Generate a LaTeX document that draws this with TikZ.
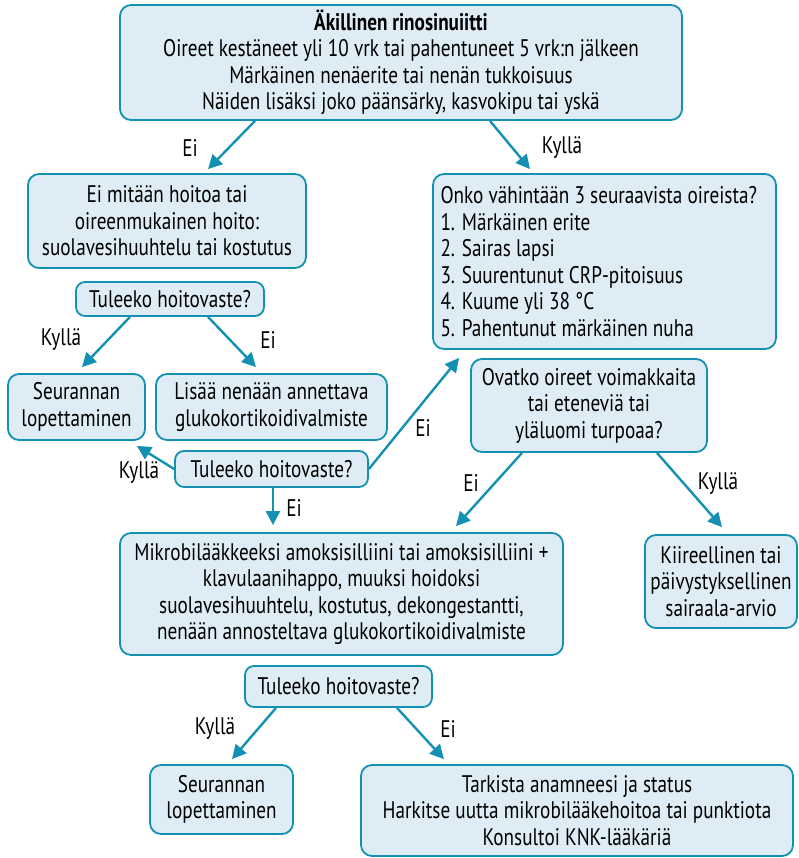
\documentclass[tikz,border=0pt]{standalone}
\usepackage{fontspec}
\setmainfont{PT Sans}[FakeStretch=0.8]
\usepackage{tikz}
\usetikzlibrary{arrows.meta, calc}
\definecolor{tealline}{RGB}{20,145,178}
\definecolor{boxfill}{RGB}{222,237,245}

\begin{document}
\begin{tikzpicture}[x=1pt, y=-1pt,
  % Node Styles
  bnode/.style={rectangle, rounded corners=11pt, draw=tealline, line width=1.8pt, fill=boxfill, text=black, align=center, font=\fontsize{24}{26.5}\selectfont, inner sep=0pt},
  qnode/.style={bnode, rounded corners=9pt},
  % Arrow Styles
  arr/.style={-{Triangle[length=14pt,width=14pt]}, line width=2.4pt, tealline},
  % Labels
  lbl/.style={font=\fontsize{24}{26.5}\selectfont, inner sep=0pt}
]
\useasboundingbox (0,0) rectangle (799,858);

\node[bnode, minimum width=562, minimum height=115] (start) at (401,62.5) {\textbf{Äkillinen rinosinuiitti}\\Oireet kestäneet yli 10 vrk tai pahentuneet 5 vrk:n jälkeen\\Märkäinen nenäerite tai nenän tukkoisuus\\Näiden lisäksi joko päänsärky, kasvokipu tai yskä};
\node[bnode, minimum width=278, minimum height=94] (nohoito) at (167,221) {Ei mitään hoitoa tai\\oireenmukainen hoito:\\suolavesihuuhtelu tai kostutus};
\node[qnode, minimum width=188, minimum height=34] (vaste1) at (170,299) {Tuleeko hoitovaste?};
\node[bnode, minimum width=137, minimum height=66] (seur1) at (76.5,407) {Seurannan\\lopettaminen};
\node[bnode, minimum width=231, minimum height=66] (lisaa) at (271.5,407) {Lisää nenään annettava\\glukokortikoidivalmiste};
\node[qnode, minimum width=193, minimum height=36] (vaste2) at (271.5,469) {Tuleeko hoitovaste?};
\node[bnode, minimum width=343, minimum height=175, text width=328, align=flush left] (oireet3) at (604.5,261.5) {Onko vähintään 3 seuraavista oireista?\\1. Märkäinen erite\\2. Sairas lapsi\\3. Suurentunut CRP-pitoisuus\\4. Kuume yli 38 °C\\5. Pahentunut märkäinen nuha};
\node[bnode, minimum width=236, minimum height=93] (voimak) at (589,405.5) {Ovatko oireet voimakkaita\\tai eteneviä tai\\yläluomi turpoaa?};
\node[bnode, minimum width=443, minimum height=122] (mikrobi) at (341.5,594) {Mikrobilääkkeeksi amoksisilliini tai amoksisilliini +\\klavulaanihappo, muuksi hoidoksi\\suolavesihuuhtelu, kostutus, dekongestantti,\\nenään annosteltava glukokortikoidivalmiste};
\node[bnode, minimum width=152, minimum height=93] (kiire) at (721,581.5) {Kiireellinen tai\\päivystyksellinen\\sairaala-arvio};
\node[qnode, minimum width=187, minimum height=41] (vaste3) at (338.5,686.5) {Tuleeko hoitovaste?};
\node[bnode, minimum width=143, minimum height=69] (seur2) at (221.5,799.5) {Seurannan\\lopettaminen};
\node[bnode, minimum width=432, minimum height=91] (tarkista) at (577,810.5) {Tarkista anamneesi ja status\\Harkitse uutta mikrobilääkehoitoa tai punktiota\\Konsultoi KNK-lääkäriä};

% Arrows
\draw[arr] ([xshift=-146pt]start.south) -- ([xshift=41pt, yshift=4pt]nohoito.north);
\node[lbl] at (190,148) {Ei};
\draw[arr] ([xshift=89pt]start.south) -- ([xshift=-74.5pt, yshift=4pt]oireet3.north);
\node[lbl] at (562,148) {Kyllä};
\draw[arr] ([xshift=-40pt]vaste1.south) -- ([xshift=5.5pt, yshift=6pt]seur1.north);
\node[lbl] at (61,340) {Kyllä};
\draw[arr] ([xshift=38pt]vaste1.south) -- ([xshift=-15.5pt, yshift=6pt]lisaa.north);
\node[lbl] at (268,340) {Ei};
\draw[arr] (vaste2.west) -- ([xshift=-9pt, yshift=-5pt]seur1.south east);
\node[lbl] at (139,473) {Kyllä};
\draw[arr] (vaste2.east) -- ([xshift=27pt, yshift=-8pt]oireet3.south west);
\node[lbl] at (423,428) {Ei};
\draw[arr] ([xshift=1.5pt]vaste2.south) -- ([xshift=-68.5pt, yshift=7pt]mikrobi.north);
\node[lbl] at (294,508) {Ei};
\draw[arr] ([xshift=-67pt]voimak.south) -- ([xshift=114.5pt, yshift=6pt]mikrobi.north);
\node[lbl] at (471,483) {Ei};
\draw[arr] ([xshift=68pt]voimak.south) -- ([xshift=1pt, yshift=7pt]kiire.north);
\node[lbl] at (718,484) {Kyllä};
\draw[arr] ([xshift=-62.5pt]vaste3.south) -- ([xshift=10.5pt, yshift=5pt]seur2.north);
\node[lbl] at (215,729) {Kyllä};
\draw[arr] ([xshift=58.5pt]vaste3.south) -- ([xshift=-133pt, yshift=5pt]tarkista.north);
\node[lbl] at (448,729) {Ei};

\end{tikzpicture}
\end{document}
